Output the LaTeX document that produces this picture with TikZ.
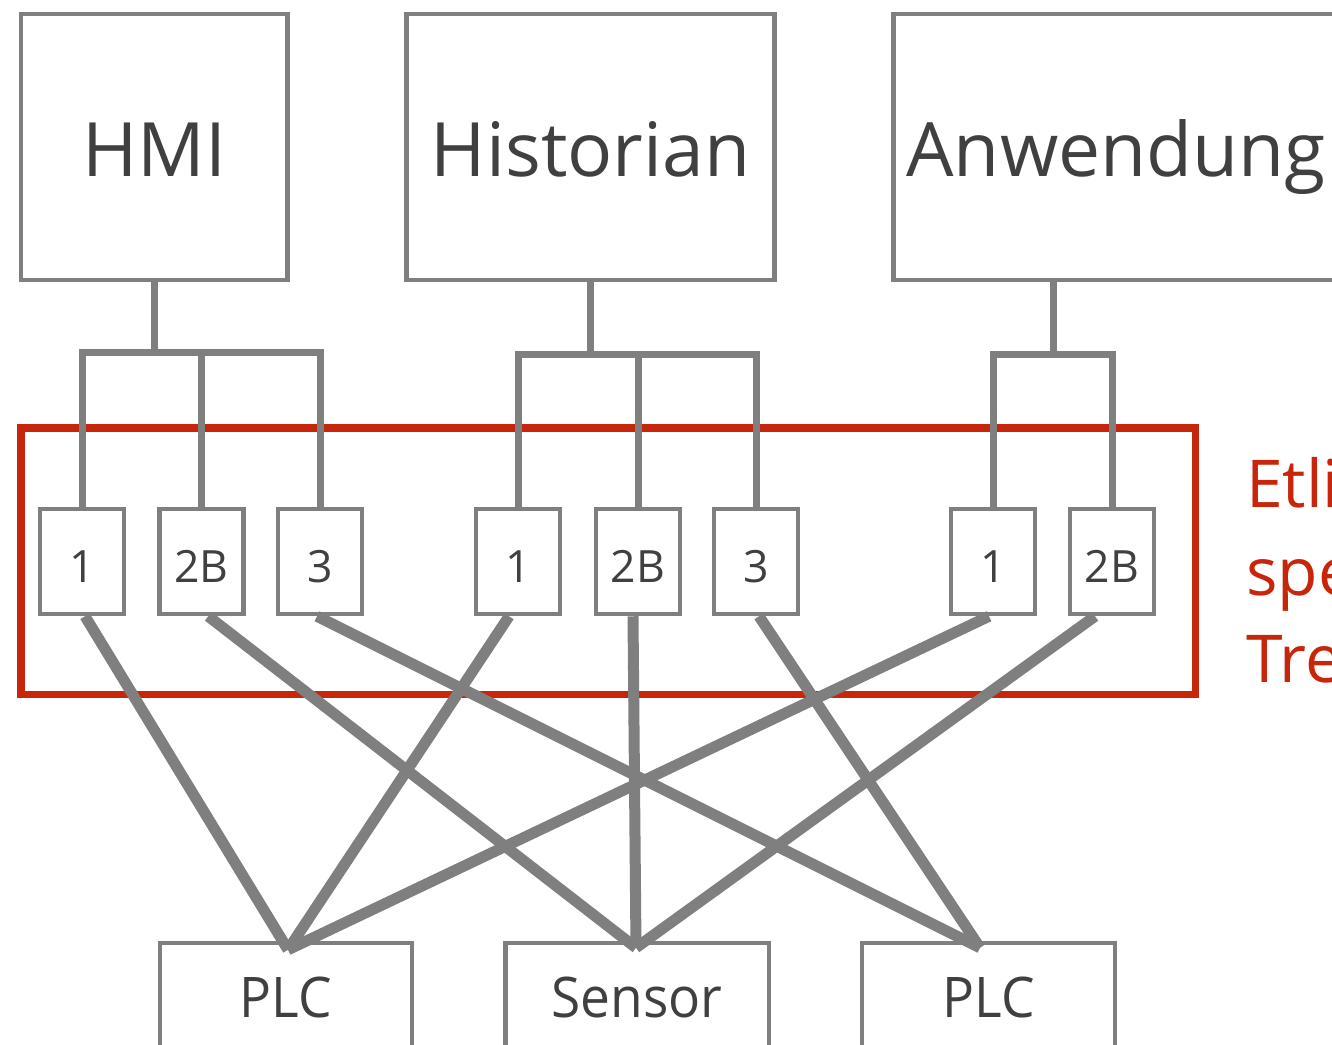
\documentclass[tikz,border=0pt]{standalone}
\usepackage{fontspec}
\setmainfont{Open Sans}
\definecolor{lg}{HTML}{7F7F7F}
\definecolor{tx}{HTML}{404040}
\definecolor{rd}{HTML}{C8260A}
\begin{document}
\begin{tikzpicture}[x=1pt,y=-1pt,
  box/.style={draw=lg, line width=4.5pt, inner sep=0pt, text=tx, fill=white},
  topbox/.style={box, minimum height=266pt, font=\fontsize{75}{90}\selectfont, text height=58pt, text depth=0pt},
  port/.style={box, minimum width=84pt, minimum height=105pt, font=\fontsize{44.5}{50}\selectfont, text height=41pt, text depth=0pt},
  dev/.style={box, minimum height=200pt, font=\fontsize{56}{60}\selectfont, text height=42pt, text depth=94pt},
  tree/.style={draw=lg, line width=7pt, line join=miter},
  link/.style={draw=lg, line width=11pt},
  redtxt/.style={text=rd, inner sep=0pt, anchor=base west, font=\fontsize{66}{80}\selectfont}]
\useasboundingbox (0,0) rectangle (1332,1044);
\fill[white] (0,0) rectangle (1332,1044);

% group frame
\node[draw=rd, line width=7.5pt, minimum width=1174.5pt, minimum height=266.5pt, inner sep=0pt] (grp) at (608.25,561.25) {};

% top boxes
\node[topbox, minimum width=266.5pt] (hmi) at (154.25,147) {HMI};
\node[topbox, minimum width=368pt] (his) at (590.5,147) {Historian};
\node[topbox, minimum width=445pt] (anw) at (1116,147) {Anwendung};

% ports
\node[port] (h1) at (82,561.5) {1};
\node[port] (h2) at (201.25,561.5) {2B};
\node[port] (h3) at (320,561.5) {3};
\node[port] (s1) at (518,561.5) {1};
\node[port] (s2) at (638,561.5) {2B};
\node[port] (s3) at (756,561.5) {3};
\node[port] (a1) at (993,561.5) {1};
\node[port] (a2) at (1112,561.5) {2B};

% tree bars
\coordinate (hb) at (154.25,352);
\coordinate (sb) at (590.5,354);
\coordinate (ab) at (1053,354);
\draw[tree] (hmi.south) -- (hb);
\draw[tree] (h1.north) -- (h1.north |- hb) -- (h3.north |- hb) -- (h3.north);
\draw[tree] (h2.north) -- (h2.north |- hb);
\draw[tree] (his.south) -- (sb);
\draw[tree] (s1.north) -- (s1.north |- sb) -- (s3.north |- sb) -- (s3.north);
\draw[tree] (s2.north) -- (s2.north |- sb);
\draw[tree] (anw.south -| ab) -- (ab);
\draw[tree] (a1.north) -- (a1.north |- ab) -- (a2.north |- ab) -- (a2.north);

% devices
\node[dev, minimum width=252pt] (plc1) at (286,1043) {\scalebox{0.95}[1]{PLC}};
\node[dev, minimum width=263.5pt] (sen) at (637,1043) {\scalebox{0.95}[1]{Sensor}};
\node[dev, minimum width=253pt] (plc2) at (988.5,1043) {\scalebox{0.95}[1]{PLC}};

% links
\draw[link] ([xshift=3pt]h1.south) -- ([shift={(2,9)}]plc1.north);
\draw[link] ([xshift=7pt]h2.south) -- ([shift={(-1,7)}]sen.north);
\draw[link] ([xshift=-3pt]h3.south) -- ([shift={(-8.5,7)}]plc2.north);
\draw[link] ([xshift=-9pt]s1.south) -- ([shift={(2,9)}]plc1.north);
\draw[link] ([xshift=-5pt]s2.south) -- ([shift={(-1,7)}]sen.north);
\draw[link] ([xshift=3pt]s3.south) -- ([shift={(-8.5,7)}]plc2.north);
\draw[link] ([xshift=-4pt]a1.south) -- ([shift={(2,9)}]plc1.north);
\draw[link] ([xshift=-17pt]a2.south) -- ([shift={(-1,7)}]sen.north);

% red label
\node[redtxt] (r1) at (1246,507) {Etli};
\node[redtxt] (r2) at (1246,595) {spe};
\node[redtxt] (r3) at (1246,682) {Tre};
\end{tikzpicture}
\end{document}
